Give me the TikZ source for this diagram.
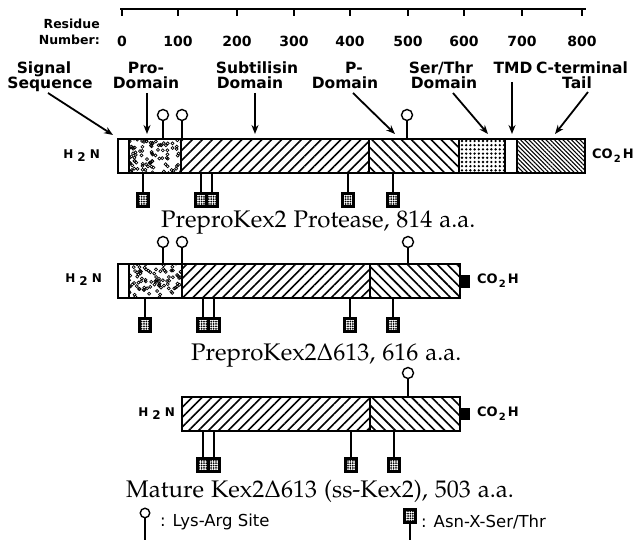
\documentclass[tikz,border=0pt]{standalone}
\usepackage[T1]{fontenc}
\usepackage{mathpazo}
\usepackage{fontspec}
\newfontfamily\djv{DejaVu Sans}
\usetikzlibrary{patterns.meta,arrows.meta}
\newcommand{\palf}{\usefont{T1}{pplx}{m}{n}\fontsize{24}{28}\selectfont}
\newcommand{\hhn}{H\hspace{4pt}\raisebox{-3pt}{2}\hspace{4pt}N}
\newcommand{\coh}{CO\hspace{1pt}\raisebox{-4pt}{\fontsize{10}{10}\selectfont 2}\hspace{2pt}H}
\begin{document}
\begin{tikzpicture}[x=1pt,y=-1pt,
  lab/.style={font=\djv\bfseries\fontsize{15.5}{17}\selectfont, anchor=base, inner sep=0},
  num/.style={font=\djv\bfseries\fontsize{14}{15}\selectfont, anchor=base, inner sep=0},
  res/.style={font=\djv\bfseries\fontsize{12.5}{14}\selectfont, anchor=base east, inner sep=0},
  chem/.style={font=\djv\bfseries\fontsize{12}{13}\selectfont, inner sep=0},
  pname/.style={font=\palf, anchor=base west, inner sep=0},
  leg/.style={font=\djv\fontsize{16.5}{18}\selectfont, anchor=base west, inner sep=0},
  arr/.style={line width=1.8pt,-{Stealth[length=9pt,width=7pt]}},
  barbox/.style={draw, line width=1.8pt, minimum height=34pt, inner sep=0},
  sepl/.style={line width=1.4pt},
  kr/.style={circle, draw, line width=1.4pt, minimum size=11pt, inner sep=0, fill=white},
  gly/.style={draw, line width=2.2pt, minimum width=11pt, minimum height=13pt, inner sep=0,
     pattern={Dots[radius=1pt,distance=2.4pt]}},
  stem/.style={line width=1.5pt},
  prodots/.style={line width=0.7pt},
  subt/.style={pattern={Lines[angle=45,distance=7pt,line width=1.6pt]}},
  pdom/.style={pattern={Lines[angle=-45,distance=7pt,line width=1.6pt]}},
  stdom/.style={pattern={Dots[radius=1.3pt,distance=4.2pt]}},
  ctail/.style={pattern={Lines[angle=-45,distance=3pt,line width=1.1pt]}}
]
\useasboundingbox (0,0) rectangle (637,540);

% ruler
\draw[line width=1.5pt] (120,9) -- (586,9);
\foreach \x/\n in {122/0,178/100,237/200,294/300,350/400,408/500,464/600,522/700,582/800}{
  \draw[line width=1.5pt] (\x,9) -- (\x,16);
  \node[num] (t\n) at (\x,47) {\n};
}
\node[res] (res1) at (100,29) {Residue};
\node[res] (res2) at (100,45) {Number:};

% domain labels
\node[lab] (sig1) at (44,74) {Signal};
\node[lab] (sig2) at (50,89) {Sequence};
\node[lab] (pro1) at (146,74) {Pro-};
\node[lab] (pro2) at (146,89) {Domain};
\node[lab] (sub1) at (257,74) {Subtilisin};
\node[lab] (sub2) at (250,89) {Domain};
\node[lab] (pd1) at (354,74) {P-};
\node[lab] (pd2) at (345,89) {Domain};
\node[lab] (st1) at (441,74) {Ser/Thr};
\node[lab] (st2) at (444,89) {Domain};
\node[lab] (tmd) at (513,74) {TMD};
\node[lab] (ct1) at (582,74) {C-terminal};
\node[lab] (ct2) at (577,89) {Tail};

\coordinate (e1) at (113,135);
\coordinate (e2) at (147,134);
\coordinate (e3) at (255,134);
\coordinate (e4) at (395,134);
\coordinate (e5) at (488,134);
\coordinate (e6) at (512,134);
\coordinate (e7) at (555,134);
\draw[arr] ([xshift=-2pt,yshift=-4pt]sig2.base) -- (e1);
\draw[arr] ([xshift=1pt,yshift=-4pt]pro2.base) -- (e2);
\draw[arr] ([xshift=5pt,yshift=-4pt]sub2.base) -- (e3);
\draw[arr] ([xshift=8pt,yshift=-4pt]pd2.base) -- (e4);
\draw[arr] ([xshift=9pt,yshift=-4pt]st2.base) -- (e5);
\draw[arr] ([xshift=-1pt,yshift=-8pt]tmd.base) -- (e6);
\draw[arr] ([xshift=11pt,yshift=-3pt]ct2.base) -- (e7);

% ---------- bar 1 ----------
\fill[white] (118,139) rectangle (585,173);
\begin{scope}
  \clip (129,139) rectangle (181,173);
  \pgfmathsetseed{7}
  \foreach \i in {1,...,105} \draw[prodots] ({127+rnd*56},{137+rnd*38}) circle[radius=1.5pt];
\end{scope}
\fill[subt] (181,139) rectangle (369,173);
\fill[pdom] (369,139) rectangle (459,173);
\fill[stdom] (459,139) rectangle (505,173);
\fill[ctail] (517,139) rectangle (585,173);
\node[barbox, minimum width=467pt] (b1) at (351.5,156) {};
\foreach \x in {129,181,369,459,505,517} \draw[sepl] (\x,139) -- (\x,173);
\node[chem, anchor=east] (n1) at (100,156) {\hhn};
\node[chem, anchor=west, font=\djv\bfseries\fontsize{13}{14}\selectfont] (c1) at (592,156) {\coh};

\foreach \x/\k in {163/a,182/b,407/c}{
  \node[kr] (k1\k) at (\x,115) {};
  \draw[stem] (k1\k) -- (k1\k |- b1.north);
}
\foreach \x/\k in {143/a,201/b,212/c,348/d,393/e}{
  \node[gly] (g1\k) at (\x,200) {};
  \draw[stem] (g1\k) -- (g1\k |- b1.south);
}
\node[pname] (l1) at (161,228) {PreproKex2 Protease, 814 a.a.};

% ---------- bar 2 ----------
\fill[white] (118,264) rectangle (460,298);
\begin{scope}
  \clip (129,264) rectangle (182,298);
  \pgfmathsetseed{11}
  \foreach \i in {1,...,105} \draw[prodots] ({127+rnd*57},{262+rnd*38}) circle[radius=1.5pt];
\end{scope}
\fill[subt] (182,264) rectangle (370,298);
\fill[pdom] (370,264) rectangle (460,298);
\node[barbox, minimum width=342pt] (b2) at (289,281) {};
\foreach \x in {129,182,370} \draw[sepl] (\x,264) -- (\x,298);
\fill (460,275) rectangle (470,288);
\node[chem, anchor=east] (n2) at (102,280) {\hhn};
\node[chem, anchor=west, font=\djv\bfseries\fontsize{13}{14}\selectfont] (c2) at (477,281) {\coh};

\foreach \x/\k in {163/a,182/b,408/c}{
  \node[kr] (k2\k) at (\x,242) {};
  \draw[stem] (k2\k) -- (k2\k |- b2.north);
}
\foreach \x/\k in {145/a,203/b,214/c,350/d,393/e}{
  \node[gly] (g2\k) at (\x,325) {};
  \draw[stem] (g2\k) -- (g2\k |- b2.south);
}
\node[pname] (l2) at (191,360) {PreproKex2$\Delta$613, 616 a.a.};

% ---------- bar 3 ----------
\fill[white] (182,397) rectangle (460,431);
\fill[subt] (182,397) rectangle (370,431);
\fill[pdom] (370,397) rectangle (460,431);
\node[barbox, minimum width=278pt] (b3) at (321,414) {};
\draw[sepl] (370,397) -- (370,431);
\fill (460,408) rectangle (470,420);
\node[chem, anchor=east] (n3) at (175,414) {\hhn};
\node[chem, anchor=west, font=\djv\bfseries\fontsize{13}{14}\selectfont] (c3) at (477,414) {\coh};

\node[kr] (k3a) at (408,373) {};
\draw[stem] (k3a) -- (k3a |- b3.north);
\foreach \x/\k in {203/a,214/b,351/c,394/d}{
  \node[gly] (g3\k) at (\x,465) {};
  \draw[stem] (g3\k) -- (g3\k |- b3.south);
}
\node[pname] (l3) at (126,497) {Mature Kex2$\Delta$613 (ss-Kex2), 503 a.a.};

% ---------- legend ----------
\node[kr, minimum size=9.5pt] (lk) at (145,513) {};
\coordinate (lk0) at (145,540);
\draw[stem] (lk) -- (lk0);
\node[leg] (lt1) at (160,526) {: Lys-Arg Site};
\node[gly] (lg) at (410,516) {};
\coordinate (lg0) at (410,540);
\draw[stem] (lg) -- (lg0);
\node[leg] (lt2) at (421,527) {: Asn-X-Ser/Thr};
\end{tikzpicture}
\end{document}
